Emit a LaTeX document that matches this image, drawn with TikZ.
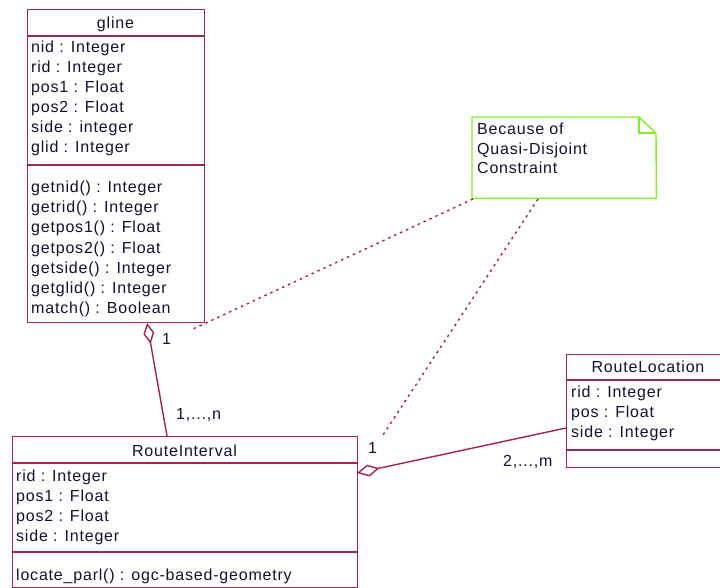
\documentclass[tikz,border=0pt]{standalone}
\usepackage{fontspec}
\setmainfont{Liberation Sans}[LetterSpace=5]
\usetikzlibrary{arrows.meta}
\definecolor{crim}{RGB}{168,32,80}
\definecolor{ink}{RGB}{18,18,48}
\definecolor{notegreen}{RGB}{128,240,40}
\tikzset{
  umlbox/.style={draw=crim, line width=1.4pt, fill=white, inner sep=0pt, anchor=north west},
  sepline/.style={draw=crim, line width=1.4pt},
  txt/.style={inner sep=0pt, anchor=base west, text=ink, font=\fontsize{16pt}{20pt}\selectfont},
  hdr/.style={txt, anchor=base},
  assoc/.style={draw=crim, line width=1.4pt},
  notelink/.style={draw=crim, line width=1.4pt, dash pattern=on 2.5pt off 4pt},
  agg/.style={-{Diamond[open, length=21pt, width=11pt, line width=1.4pt]}},
}
\begin{document}
\begin{tikzpicture}[x=1pt, y=1pt]
\useasboundingbox (0,0) rectangle (720,-588);
\clip (0,0) rectangle (720,-588);
\fill[white] (0,0) rectangle (720,-588);

% gline class
\node[umlbox, minimum width=177pt, minimum height=313pt] (gline) at (27,-9) {};
\draw[sepline] (27,-36) -- (204,-36);
\draw[sepline] (27,-165) -- (204,-165);
\node[hdr] (glineH) at (115.5,-28.5) {gline};
\foreach \t [count=\i] in {nid : Integer, rid : Integer, pos1 : Float, pos2 : Float, side : integer, glid : Integer}
  \node[txt] (glA\i) at (31,{-53-20*(\i-1)}) {\t};
\foreach \t [count=\i] in {getnid() : Integer, getrid() : Integer, getpos1() : Float, getpos2() : Float, getside() : Integer, getglid() : Integer, match() : Boolean}
  \node[txt] (glM\i) at (31,{-193-20*(\i-1)}) {\t};

% RouteInterval class
\node[umlbox, minimum width=345pt, minimum height=151pt] (ri) at (12,-436) {};
\draw[sepline] (12,-463) -- (357,-463);
\draw[sepline] (12,-552) -- (357,-552);
\node[hdr] (riH) at (184.5,-456.5) {RouteInterval};
\foreach \t [count=\i] in {rid : Integer, pos1 : Float, pos2 : Float, side : Integer}
  \node[txt] (riA\i) at (16,{-481-20*(\i-1)}) {\t};
\node[txt] (riM1) at (16,-580) {locate\_parl() : ogc-based-geometry};

% RouteLocation class
\node[umlbox, minimum width=164pt, minimum height=113pt] (rl) at (566,-354) {};
\draw[sepline] (566,-380) -- (730,-380);
\draw[sepline] (566,-450) -- (730,-450);
\node[hdr] (rlH) at (648,-372.5) {RouteLocation};
\foreach \t [count=\i] in {rid : Integer, pos : Float, side : Integer}
  \node[txt] (rlA\i) at (571,{-397-20*(\i-1)}) {\t};

% note
\node[inner sep=0pt, minimum width=184pt, minimum height=81pt, anchor=north west] (note) at (472,-117) {};
\draw[draw=notegreen, line width=1.4pt, fill=white]
  (note.north west) -- (639,-117) -- (656,-133) -- (note.south east) -- (note.south west) -- cycle;
\draw[draw=notegreen, line width=1.4pt] (639,-117) -- (639,-133) -- (656,-133);
\node[txt] (noteL1) at (477,-135) {Because of};
\node[txt] (noteL2) at (477,-155) {Quasi-Disjoint};
\node[txt] (noteL3) at (477,-174) {Constraint};

% connector end points
\coordinate (glBot) at (147,-323);
\coordinate (riTop) at (167,-436);
\coordinate (riRight) at (357,-473);
\coordinate (rlLeft) at (566,-428);
\coordinate (noteA) at (473,-199);
\coordinate (noteB) at (538,-199);
\coordinate (glEnd) at (193,-329);
\coordinate (riEnd) at (383,-435);

% associations
\draw[assoc, agg] (riTop) -- (glBot);
\draw[assoc, -{Diamond[open, length=23pt, width=12pt, line width=1.4pt]}] (rlLeft) -- (riRight);

% note links
\draw[notelink] (noteA) -- (glEnd);
\draw[notelink] (noteB) -- (riEnd);

% multiplicities
\node[txt] (m1) at (162,-344) {1};
\node[txt] (m2) at (176,-419) {1,...,n};
\node[txt] (m3) at (368,-453) {1};
\node[txt] (m4) at (503,-466) {2,...,m};
\end{tikzpicture}
\end{document}
